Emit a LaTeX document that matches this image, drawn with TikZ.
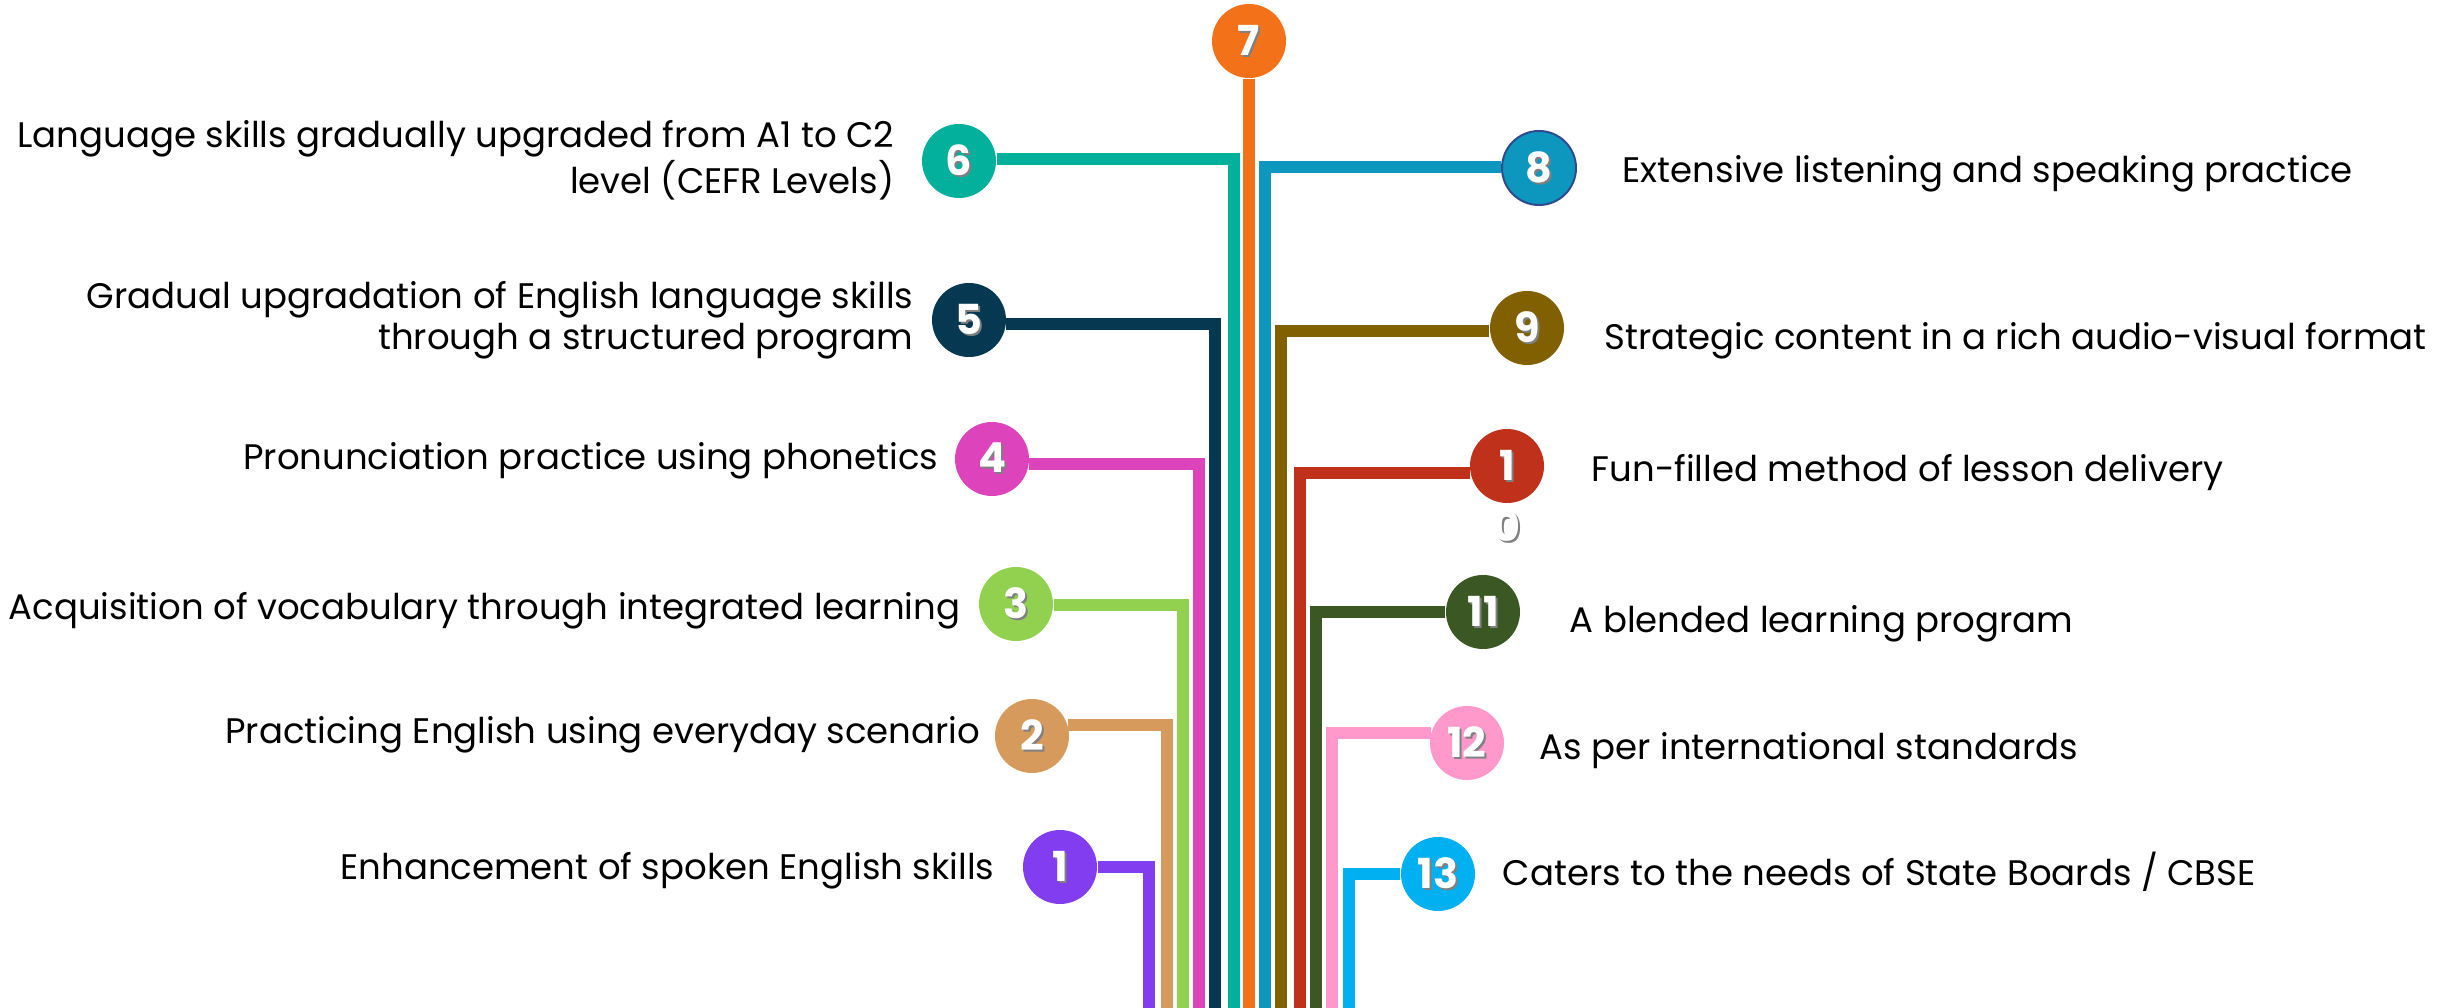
\documentclass[tikz,border=0pt]{standalone}
\usepackage{fontspec}
\setmainfont{Poppins}
\definecolor{clr1}{HTML}{823DF0}
\definecolor{clr2}{HTML}{D69B5C}
\definecolor{clr3}{HTML}{92D050}
\definecolor{clr4}{HTML}{DD44BB}
\definecolor{clr5}{HTML}{073852}
\definecolor{clr6}{HTML}{02B09B}
\definecolor{clr7}{HTML}{F27119}
\definecolor{clr8}{HTML}{0E97BE}
\definecolor{clr9}{HTML}{806000}
\definecolor{clr10}{HTML}{C0311B}
\definecolor{clr11}{HTML}{3B5724}
\definecolor{clr12}{HTML}{FF99CC}
\definecolor{clr13}{HTML}{00B0F0}
\definecolor{numshade}{HTML}{808080}
\definecolor{rim8}{HTML}{2F4B8E}
\newcommand{\shadenum}[1]{\makebox[0pt][l]{\kern0.6pt\raisebox{-0.6pt}{\color{numshade}#1}}#1}
\tikzset{
  numdot/.style={circle, fill=#1, minimum size=22.2pt, inner sep=0pt, text=white,
    font=\bfseries\fontsize{12.4}{12.4}\selectfont},
  numtxt/.style={inner sep=0pt, text=white, font=\bfseries\fontsize{12.4}{12.4}\selectfont},
  txt/.style={inner sep=0pt, text=black, font=\fontsize{10.65}{12.3}\selectfont},
  conn/.style={line width=3.6pt, line join=miter}
}
\begin{document}
\begin{tikzpicture}[x=0.3pt, y=-0.3pt]
  \useasboundingbox (0,0) rectangle (2453,1008);
  \node[numdot=clr1] (c1) at (1060,867) {\shadenum{1}};
  \node[numdot=clr2] (c2) at (1032,736) {\shadenum{2}};
  \node[numdot=clr3] (c3) at (1016,604) {\shadenum{3}};
  \node[numdot=clr4] (c4) at (992,459) {\shadenum{4}};
  \node[numdot=clr5] (c5) at (969,320) {\shadenum{5}};
  \node[numdot=clr6] (c6) at (959,161) {\shadenum{6}};
  \node[numdot=clr7] (c7) at (1249,41) {\shadenum{7}};
  \node[numdot=clr8, draw=rim8, line width=0.6pt] (c8) at (1539,168) {\shadenum{8}};
  \node[numdot=clr9] (c9) at (1527,328) {\shadenum{9}};
  \node[numdot=clr10] (c10) at (1507,466) {\shadenum{1}};
  \node[numtxt] (c10b) at (1507,527) {\shadenum{0}};
  \node[numdot=clr11] (c11) at (1483,612) {\shadenum{11}};
  \node[numdot=clr12] (c12) at (1467,743) {\shadenum{12}};
  \node[numdot=clr13] (c13) at (1438,874) {\shadenum{13}};

  \node[txt, anchor=east, align=right] (t6) at (895,160) {Language skills gradually upgraded from A1 to C2\\level (CEFR Levels)};
  \node[txt, anchor=east, align=right] (t5) at (914,320) {Gradual upgradation of English language skills\\through a structured program};
  \node[txt, anchor=base east] (t4) at (939,470) {Pronunciation practice using phonetics};
  \node[txt, anchor=base east] (t3) at (961,620) {Acquisition of vocabulary through integrated learning};
  \node[txt, anchor=base east] (t2) at (981,744) {Practicing English using everyday scenario};
  \node[txt, anchor=base east] (t1) at (995,880) {Enhancement of spoken English skills};
  \node[txt, anchor=base west] (t8) at (1622,183) {Extensive listening and speaking practice};
  \node[txt, anchor=base west] (t9) at (1604,350) {Strategic content in a rich audio-visual format};
  \node[txt, anchor=base west] (t10) at (1591,482) {Fun-filled method of lesson delivery};
  \node[txt, anchor=base west] (t11) at (1569,633) {A blended learning program};
  \node[txt, anchor=base west] (t12) at (1539,760) {As per international standards};
  \node[txt, anchor=base west] (t13) at (1502,886) {Caters to the needs of State Boards / CBSE};

  \foreach \n/\a/\x in {1/0/1149, 2/17/1167, 3/-2/1183, 4/-8/1199, 5/-6/1215, 6/3/1234,
                        8/178/1265, 9/185/1281, 10/191/1300, 11/180/1316, 12/164/1332, 13/180/1349} {
    \coordinate (b\n) at (\x,1008);
    \draw[conn, draw=clr\n] (c\n.\a) -| (b\n);
  }
  \coordinate (b7) at (1249,1008);
  \draw[conn, draw=clr7] (c7.south) -- (b7);
\end{tikzpicture}
\end{document}
